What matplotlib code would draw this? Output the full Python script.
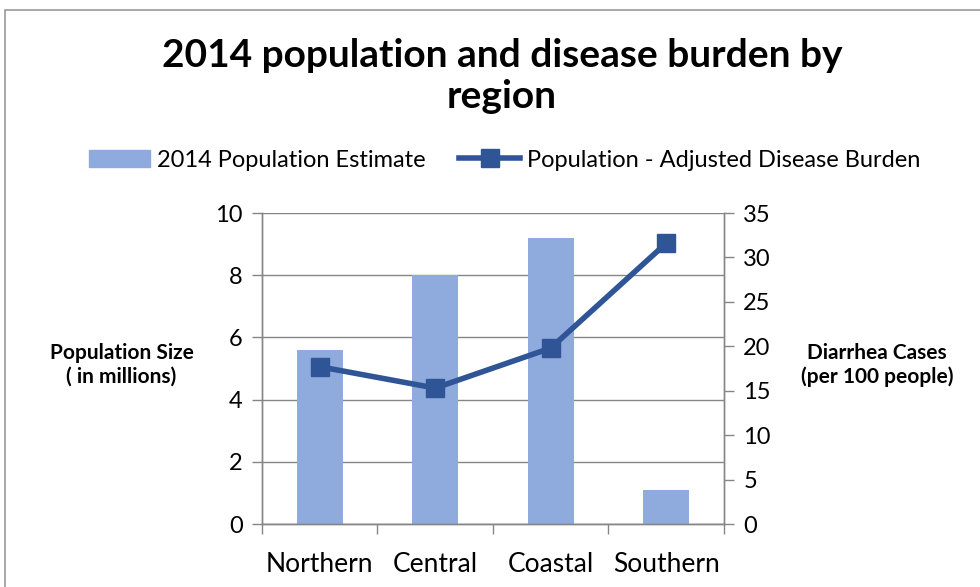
import matplotlib
matplotlib.use("Agg")
import matplotlib.pyplot as plt
from matplotlib.patches import Rectangle
from matplotlib.lines import Line2D

regions = ["Northern", "Central", "Coastal", "Southern"]
population_millions = [5.6, 8.0, 9.2, 1.1]
diarrhea_per_100 = [17.7, 15.3, 19.8, 31.6]

left_ticks = [0, 2, 4, 6, 8, 10]
right_ticks = [0, 5, 10, 15, 20, 25, 30, 35]

bar_color = "#8FAADC"
line_color = "#2F5597"
axis_gray = "#868686"

plt.rcParams["font.family"] = ["Lato", "DejaVu Sans"]

fig = plt.figure(figsize=(9.8, 5.87), dpi=100)
ax = fig.add_axes([0.2673, 0.1073, 0.4714, 0.5298])
ax2 = ax.twinx()

x = list(range(len(regions)))
ax.bar(x, population_millions, width=0.4, color=bar_color, zorder=2,
       label="2014 Population Estimate")
ax.set_xlim(-0.5, len(regions) - 0.5)
ax.set_ylim(0, 10)
ax.set_yticks(left_ticks)
ax.yaxis.grid(True, color=axis_gray, linewidth=1.0, zorder=0)
ax.set_axisbelow(True)

ax2.plot(x, diarrhea_per_100, color=line_color, linewidth=4, marker="s",
         markersize=13, zorder=3, label="Population - Adjusted Disease Burden")
ax2.set_ylim(0, 35)
ax2.set_yticks(right_ticks)

# category labels centred, tick marks at category boundaries
ax.set_xticks(x)
ax.set_xticklabels(regions, fontsize=19)
ax.tick_params(axis="x", length=0, pad=20)
ax.set_xticks([i - 0.5 for i in range(len(regions) + 1)], minor=True)
ax.tick_params(axis="x", which="minor", length=7, width=1, color=axis_gray,
               direction="out")

ax.tick_params(axis="y", labelsize=17, length=7, width=1, color=axis_gray,
               direction="out", pad=7)
ax2.tick_params(axis="y", labelsize=17, length=7, width=1, color=axis_gray,
                direction="out", pad=7)

for a in (ax, ax2):
    a.spines["top"].set_visible(False)
    for side in ("left", "right", "bottom"):
        a.spines[side].set_color(axis_gray)
        a.spines[side].set_linewidth(1.0)

fig.text(0.124, 0.378, "Population Size\n( in millions)", ha="center",
         va="center", fontsize=15, fontweight="bold", linespacing=1.25)
fig.text(0.895, 0.378, "Diarrhea Cases\n(per 100 people)", ha="center",
         va="center", fontsize=15, fontweight="bold", linespacing=1.25)

fig.text(0.512, 0.87, "2014 population and disease burden by\nregion",
         ha="center", va="center", fontsize=28, fontweight="bold",
         linespacing=1.2)

handles = [
    Rectangle((0, 0), 1, 1, color=bar_color),
    Line2D([0], [0], color=line_color, linewidth=4, marker="s", markersize=13),
]
labels = ["2014 Population Estimate", "Population - Adjusted Disease Burden"]
fig.legend(handles, labels, loc="center", bbox_to_anchor=(0.515, 0.727),
           ncol=2, frameon=False, fontsize=17, handlelength=2.6,
           handletextpad=0.3, columnspacing=1.4)

# chart area frame
fig.patches.append(Rectangle((0.005, -0.1), 1.2, 1.083, transform=fig.transFigure,
                             fill=False, edgecolor="#999999", linewidth=1.2))

fig.savefig("out.png", dpi=100)
